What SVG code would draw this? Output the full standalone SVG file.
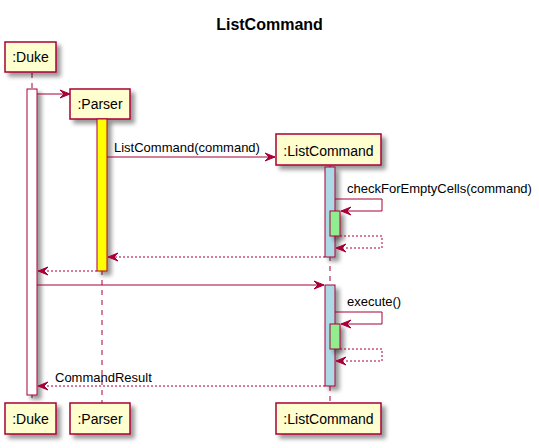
<svg xmlns="http://www.w3.org/2000/svg" width="539" height="448" viewBox="0 0 539 448">
<defs>
<filter id="sh" x="-1" y="-1" width="300%" height="300%">
<feGaussianBlur stdDeviation="2" result="b1"/>
<feColorMatrix in="b1" result="b2" type="matrix" values="0 0 0 0 0 0 0 0 0 0 0 0 0 0 0 0 0 0 .4 0"/>
<feOffset dx="4" dy="4" in="b2" result="b3"/>
<feBlend in="SourceGraphic" in2="b3" mode="normal"/>
</filter>
<marker id="ah" markerUnits="userSpaceOnUse" markerWidth="12" markerHeight="10" refX="10" refY="4" orient="auto" overflow="visible">
<path d="M0,0 L10,4 L0,8 L4,4 Z" fill="#A80036" stroke="#A80036" stroke-width="1" stroke-dasharray="none"/>
</marker>
</defs>
<style>
.box{fill:#FEFECE;stroke:#A80036;stroke-width:1.5;filter:url(#sh)}
.life{stroke:#A80036;stroke-width:1;stroke-dasharray:5,5;fill:none}
.act{stroke:#A80036;stroke-width:1;filter:url(#sh)}
.msg{stroke:#A80036;stroke-width:1;fill:none;marker-end:url(#ah)}
.ret{stroke-dasharray:2,2}
.pt{font-family:"Liberation Sans",Arial,sans-serif;font-size:14px;fill:#000;text-anchor:middle}
.mt{font-family:"Liberation Sans",Arial,sans-serif;font-size:13px;fill:#000}
.title{font-family:"Liberation Sans",Arial,sans-serif;font-size:16px;font-weight:bold;fill:#000;text-anchor:middle}
</style>
<rect width="539" height="448" fill="#FFFFFF"/>
<text class="title" x="269.5" y="30">ListCommand</text>

<g id="lifelines">
<line class="life" x1="32" y1="73" x2="32" y2="403"/>
<line class="life" x1="102" y1="120" x2="102" y2="403"/>
<line class="life" x1="330" y1="166" x2="330" y2="403"/>
</g>

<g id="duke">
<rect class="box" x="5" y="42" width="51" height="30"/>
<text class="pt" x="30.5" y="62">:Duke</text>
<rect class="act" x="27" y="89" width="10" height="306" fill="#FFFFFF"/>
<rect class="box" x="5" y="403" width="51" height="31"/>
<text class="pt" x="30.5" y="424">:Duke</text>
</g>

<g id="parser">
<rect class="box" x="70" y="89" width="60" height="30"/>
<text class="pt" x="100" y="109">:Parser</text>
<rect class="act" x="97" y="119" width="10" height="152" fill="#FFFF00"/>
<rect class="box" x="70" y="403" width="60" height="31"/>
<text class="pt" x="100" y="424">:Parser</text>
</g>

<g id="listcommand">
<rect class="box" x="276" y="134" width="105" height="31"/>
<text class="pt" x="328.5" y="156">:ListCommand</text>
<rect class="act" x="325" y="167" width="10" height="90" fill="#ADD8E6"/>
<rect class="act" x="330" y="211" width="10" height="25" fill="#90EE90"/>
<rect class="act" x="325" y="285" width="10" height="101" fill="#ADD8E6"/>
<rect class="act" x="330" y="324" width="10" height="25" fill="#90EE90"/>
<rect class="box" x="276" y="403" width="105" height="31"/>
<text class="pt" x="328.5" y="424">:ListCommand</text>
</g>

<g id="connectors">
<path class="msg" d="M37,94 H70"/>
<path class="msg" d="M107,157 H275"/>
<text class="mt" x="114" y="151.5">ListCommand(command)</text>
<path class="msg" d="M335,199 H382 V211 H341"/>
<text class="mt" x="347" y="193">checkForEmptyCells(command)</text>
<path class="msg ret" d="M340,236 H382 V248 H336"/>
<path class="msg ret" d="M325,257 H108"/>
<path class="msg ret" d="M97,271 H38"/>
<path class="msg" d="M37,285 H324"/>
<path class="msg" d="M335,312 H382 V324 H341"/>
<text class="mt" x="347" y="306">execute()</text>
<path class="msg ret" d="M340,349 H382 V361 H336"/>
<path class="msg ret" d="M325,386 H38"/>
<text class="mt" x="55" y="381.5">CommandResult</text>
</g>
</svg>
